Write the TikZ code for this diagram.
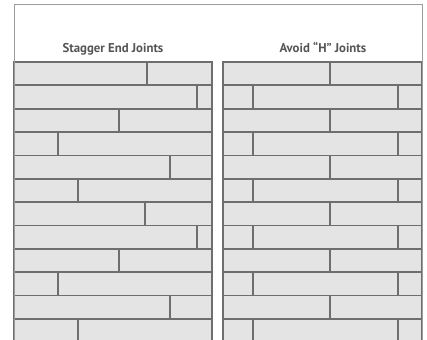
\documentclass[tikz,border=0pt]{standalone}
\usepackage{fontspec}
\setmainfont{PT Sans}
\usepackage{xcolor}
\definecolor{boardfill}{HTML}{E4E4E4}
\definecolor{boardline}{HTML}{6E6E70}
\definecolor{framegray}{HTML}{9C9C9C}
\definecolor{titlegray}{HTML}{555555}
\tikzset{
  board/.style = {draw=boardline,fill=boardfill,line width=1.8pt},
  joint/.style = {boardline,line width=1.8pt},
  frame/.style = {framegray,line width=1pt},
  title/.style = {anchor=base,font=\bfseries\fontsize{12.8}{15}\selectfont,text=titlegray}
}
\newcommand{\rowh}{23.35}

\begin{document}
\begin{tikzpicture}[x=1pt,y=-1pt]
  \useasboundingbox (0,0) rectangle (427,339);
  \begin{scope}
    \clip (0,0) rectangle (427,339);
    % left panel: staggered end joints
    \foreach \j [count=\r from 0] in {147,197,119,58,170,78,145,197,119,58,170,78}{
      \pgfmathsetmacro\yt{62+\rowh*\r}
      \draw[board] (14,\yt) rectangle (212,\yt+\rowh);
      \draw[joint] (\j,\yt) -- ++(0,\rowh);
    }
    % right panel: H joints
    \foreach \r in {0,2,...,10}{
      \pgfmathsetmacro\yt{62+\rowh*\r}
      \pgfmathsetmacro\yb{\yt+\rowh}
      \draw[board] (223,\yt) rectangle (422,\yb);
      \draw[joint] (330,\yt) -- ++(0,\rowh);
      \draw[board] (223,\yb) rectangle (422,\yb+\rowh);
      \draw[joint] (253,\yb) -- ++(0,\rowh);
      \draw[joint] (398,\yb) -- ++(0,\rowh);
    }
    \draw[frame] (14,345) -- (14,4.5) -- (422,4.5) -- (422,345);
  \end{scope}
  \node[title] (stagger) at (113,52.3) {Stagger End Joints};
  \node[title] (avoid)   at (323,52.3) {Avoid “H” Joints};
\end{tikzpicture}
\end{document}
